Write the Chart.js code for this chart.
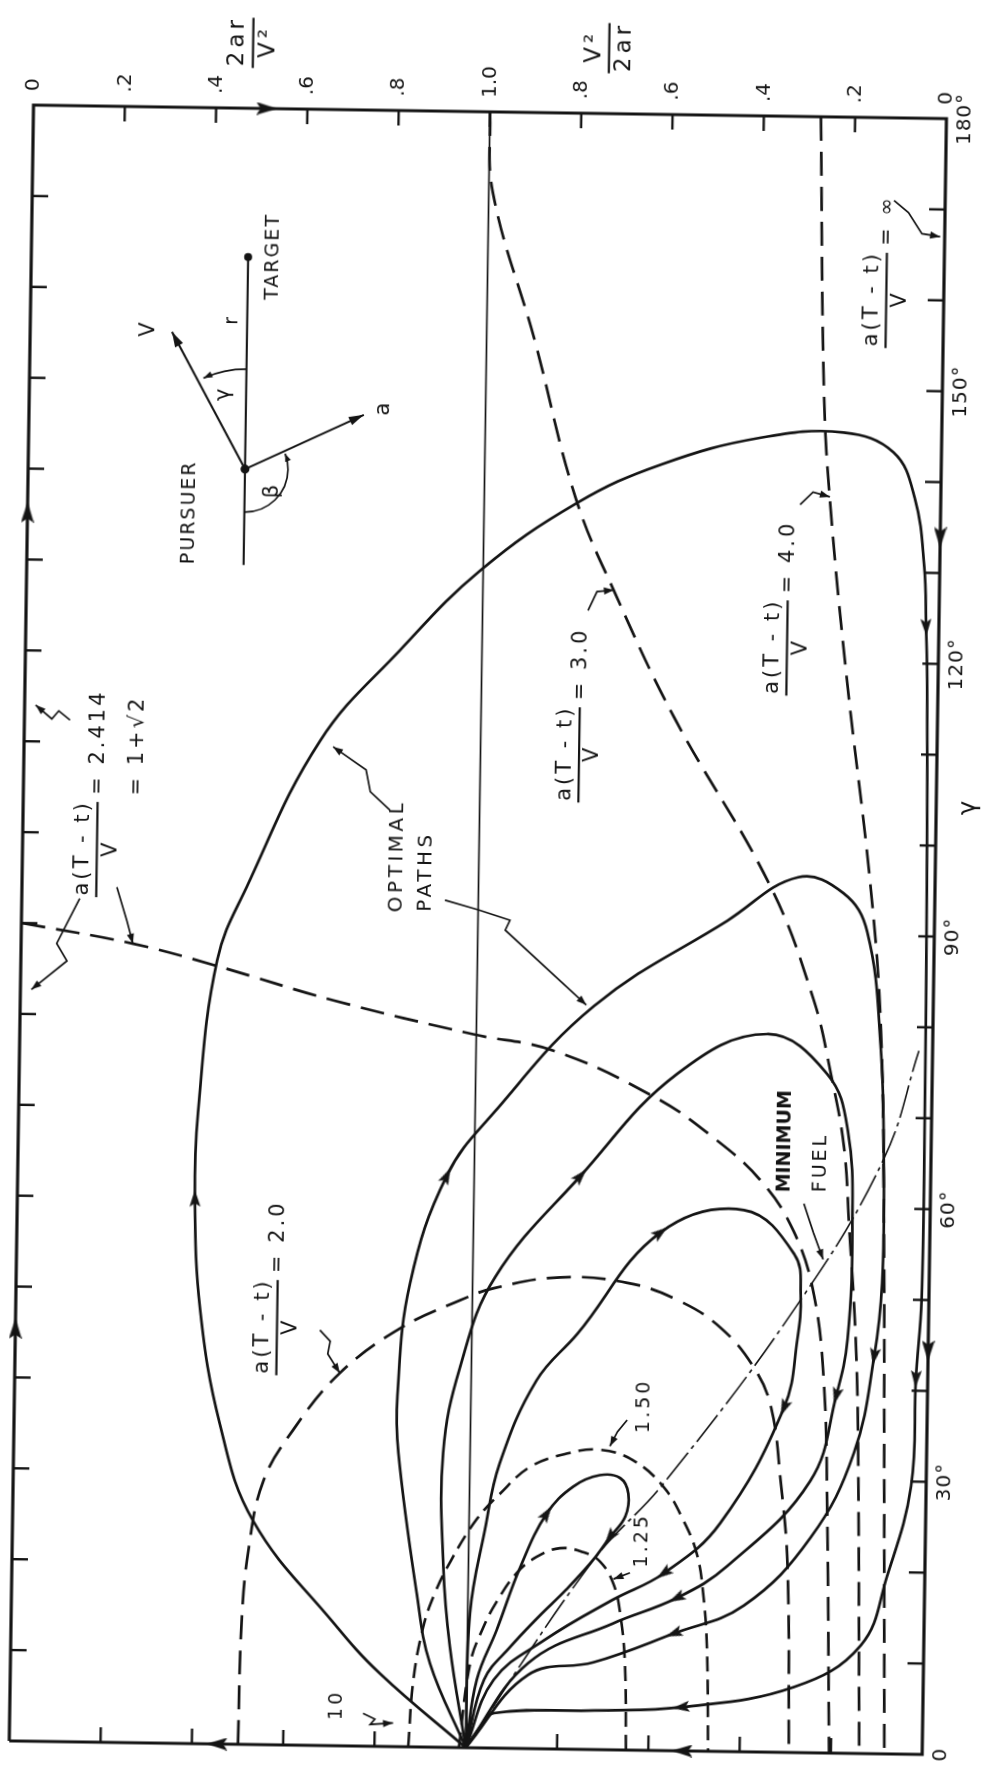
<!DOCTYPE html>
<html>
<head>
<meta charset="utf-8">
<script src="https://cdn.jsdelivr.net/npm/chart.js"></script>
<style>
  html, body { margin: 0; padding: 0; background: #ffffff; }
  #wrap { width: 987px; height: 1773px; transform: rotate(0.85deg); transform-origin: 50% 50%; }
  canvas { display: block; }
</style>
</head>
<body>
<div id="wrap"><canvas id="c" width="987" height="1773"></canvas></div>
<script>
// ---------------- data (X: 0..1 = 2ar/V^2, 1..2 = 2 - V^2/2ar ; second value = gamma in degrees) ----------------
const ratioTicks = [0, 0.2, 0.4, 0.6, 0.8, 1.0, 1.2, 1.4, 1.6, 1.8, 2.0];
const ratioTickLabels = ['0', '.2', '.4', '.6', '.8', '1.0', '.8', '.6', '.4', '.2', '0'];
const gammaTicks = [0, 10, 20, 30, 40, 50, 60, 70, 80, 90, 100, 110, 120, 130, 140, 150, 160, 170, 180];
const gammaLabelTicks = [0, 30, 60, 90, 120, 150, 180];
const gammaTickLabels = ['0', '30°', '60°', '90°', '120°', '150°', '180°'];

// optimal paths (solid)
const pathOuter = [[1.0,0],[0.81,8.0],[0.705,13.6],[0.527,24.6],[0.451,35.2],[0.404,47.8],[0.389,60],[0.393,69.4],[0.43,86.2],[0.493,94.4],[0.648,110.5],[0.82,120.6],[0.993,129.5],[1.203,137.1],[1.387,141.5],[1.604,144.6],[1.785,145.3],[1.895,143.2],[1.943,138.2],[1.966,130.7],[1.972,124],[1.976,118.3],[1.982,95.7],[1.985,70],[1.984,50],[1.974,41.3],[1.967,29.5],[1.917,19.5],[1.862,11.9],[1.717,7.2],[1.47,4.8],[1.28,4.3],[1.061,3.85],[1.031,2.3],[1.0,0]];
const pathOuterArrows = [6, 20, 25, 30];
const path96 = [[1,0],[0.919,9.2],[0.888,16.8],[0.843,32.3],[0.839,38.6],[0.863,51.0],[0.94,62.9],[1.041,69.9],[1.257,81.8],[1.546,91.4],[1.70,96.3],[1.80,94.6],[1.853,90.4],[1.886,77.9],[1.897,64.3],[1.897,51.8],[1.882,43.7],[1.841,33.1],[1.749,23.7],[1.605,16.1],[1.452,12.9],[1.277,9.6],[1.134,8.1],[1,0]];
const path96Arrows = [6, 16, 20];
const path79 = [[1,0],[0.962,11.1],[0.945,20],[0.941,32.4],[0.975,41.8],[1.049,51.8],[1.233,63.1],[1.442,74.5],[1.637,79],[1.77,74.7],[1.817,68.5],[1.83,58],[1.823,45.5],[1.8,39.3],[1.746,29.9],[1.567,20.4],[1.457,16.8],[1.318,13.9],[1.134,9.4],[1,0]];
const path79Arrows = [6, 13, 16];
const path60 = [[1,0],[1.005,14.8],[1.035,24],[1.065,31.3],[1.143,40.5],[1.231,45.7],[1.41,57],[1.592,59.6],[1.704,54.8],[1.719,50.4],[1.713,45.4],[1.686,37.9],[1.55,25.1],[1.428,19.5],[1.317,16.5],[1.17,12],[1.059,7.5],[1,0]];
const path60Arrows = [6, 11, 13];
const path30 = [[1,0],[1.022,7.5],[1.064,13],[1.114,20],[1.17,25.9],[1.227,28.9],[1.285,30.2],[1.33,29.9],[1.348,28.2],[1.342,25.7],[1.309,23.4],[1.272,20.8],[1.214,17.5],[1.155,14.5],[1.095,11.2],[1.038,7.5],[1,0]];
const path30Arrows = [4, 10];
// boundary trajectory (a(T-t)/V = infinity) along the frame
const boundary = [[0,0],[0,45.4],[0,135.2],[0,180],[0.511,180],[2,180],[2,133.9],[2,44.4],[2,0],[1.474,0],[0.455,0],[0,0]];
const boundaryArrows = [1, 2, 4, 6, 7, 9, 10];
// minimum fuel locus and the unity line
const minimumFuel = [[1,0],[1.273,20.8],[1.425,29.4],[1.719,49.8],[1.897,65.5],[1.97,77.4]];
const unityLine = [[1,0],[1,180]];
// constant time-to-go contours a(T-t)/V (dashed)
const contour125 = [[0.985,0],[1.007,9.3],[1.035,13.3],[1.063,16.1],[1.106,19.3],[1.149,21.1],[1.2,22.1],[1.251,21.7],[1.288,20.7],[1.318,18.3],[1.334,15.0],[1.346,9.5],[1.351,0]];
const contour150 = [[0.874,0],[0.883,7.3],[0.903,13.2],[0.927,16.9],[0.962,20.6],[1.016,25.1],[1.067,28.0],[1.132,31.0],[1.211,32.5],[1.284,33.0],[1.357,31.9],[1.425,29.0],[1.469,25.4],[1.5,21.7],[1.515,17.4],[1.525,11.5],[1.531,0]];
const contour200 = [[0.501,0],[0.505,13.4],[0.518,21.5],[0.548,29.0],[0.612,34.7],[0.712,41.0],[0.842,46.0],[0.973,49.2],[1.047,50.6],[1.192,51.9],[1.339,51.4],[1.449,49.6],[1.545,46.6],[1.62,42.2],[1.658,37.9],[1.681,29.9],[1.699,20.5],[1.708,0]];
const contour2414 = [[0,90],[0.246,87.9],[0.429,85.6],[0.686,82.0],[0.993,78.5],[1.171,76.8],[1.392,71.9],[1.518,67.7],[1.629,62.8],[1.702,57.3],[1.748,50.4],[1.773,40.5],[1.784,26.8],[1.796,0]];
const contour300 = [[1.0,180],[1.009,171.1],[1.105,155],[1.2,137.7],[1.29,127.2],[1.424,113.6],[1.64,95.2],[1.738,82.8],[1.778,74.7],[1.809,66.7],[1.823,57.9],[1.841,45.5],[1.85,33.1],[1.862,0]];
const contour400 = [[1.725,180],[1.741,149.3],[1.759,136.9],[1.8,118.2],[1.859,95.3],[1.886,79.8],[1.899,58],[1.907,33.1],[1.917,0]];

// ---------------- styling / helpers ----------------
const INK = '#141414';
const FONT = '"DejaVu Sans", "Liberation Sans", sans-serif';
function mk(points) { return points.map(p => ({ x: p[0], y: p[1] })); }
function arrowImage(w, h) {
  const c = document.createElement('canvas'); c.width = w; c.height = h;
  const g = c.getContext('2d'); g.fillStyle = INK;
  g.beginPath(); g.moveTo(w / 2, 0); g.lineTo(w, h); g.lineTo(w / 2, h * 0.8); g.lineTo(0, h); g.closePath(); g.fill();
  return c;
}
const headSmall = arrowImage(11, 17);
const headBig = arrowImage(13, 21);
function rotationAt(ctx) {
  const pts = ctx.dataset.data, i = ctx.dataIndex;
  const xs = ctx.chart.scales.x, ys = ctx.chart.scales.y;
  if (!xs || !ys) return 0;
  const a = pts[Math.max(0, i - 1)], b = pts[Math.min(pts.length - 1, i + 1)];
  const dx = xs.getPixelForValue(b.x) - xs.getPixelForValue(a.x);
  const dy = ys.getPixelForValue(b.y) - ys.getPixelForValue(a.y);
  return Math.atan2(dx, -dy) * 180 / Math.PI;
}
function series(label, points, arrows, style) {
  return Object.assign({
    label, data: mk(points), arrows: arrows || [], showLine: true,
    borderColor: INK, backgroundColor: INK, borderWidth: 2.7, tension: 0.4, clip: false, fill: false,
    pointRadius: c => c.dataset.arrows.includes(c.dataIndex) ? 7 : 0,
    pointHoverRadius: 0, pointHitRadius: 0, pointBorderWidth: 0,
    pointStyle: c => c.dataset.arrows.includes(c.dataIndex) ? (c.dataset.bigHead ? headBig : headSmall) : 'circle',
    pointRotation: rotationAt
  }, style || {});
}
const dashed = { borderWidth: 2.7, borderDash: [24, 11], borderCapStyle: 'butt' };
const dashedSmall = { borderWidth: 2.6, borderDash: [15, 8], borderCapStyle: 'butt' };

// ---------------- annotation layer ----------------
function rtext(g, s, x, y, size, opt) {
  opt = opt || {};
  g.save(); g.translate(x, y); g.rotate(-Math.PI / 2);
  g.font = (opt.bold ? 'bold ' : '') + size + 'px ' + FONT;
  g.letterSpacing = (opt.ls !== undefined ? opt.ls : 2) + 'px';
  g.textAlign = opt.align || 'center'; g.textBaseline = 'middle';
  g.fillText(s, 0, opt.dy || 0);
  g.restore();
}
function fracGroup(g, x, y, num, den, tails, size, ls) {
  g.save(); g.translate(x, y); g.rotate(-Math.PI / 2);
  g.font = size + 'px ' + FONT; g.letterSpacing = (ls === undefined ? 3 : ls) + 'px';
  g.textBaseline = 'middle'; g.textAlign = 'center';
  const L = Math.max(g.measureText(num).width, g.measureText(den).width);
  g.fillText(num, 1.5, -size * 0.66);
  g.fillText(den, 1.5, size * 0.66);
  g.lineWidth = 2.2; g.beginPath(); g.moveTo(-L / 2, 0); g.lineTo(L / 2, 0); g.stroke();
  g.textAlign = 'left';
  (tails || []).forEach((t, i) => g.fillText(t, L / 2 + 7, i * size * 1.85));
  g.restore();
}
function head(g, x, y, ang, len, half) {
  g.save(); g.translate(x, y); g.rotate(ang);
  g.beginPath(); g.moveTo(0, 0); g.lineTo(-len, -half); g.lineTo(-len, half); g.closePath(); g.fill();
  g.restore();
}

const leaders = [
  [[0.10,112.4],[0.075,113.4],[0.06,112.5],[0.024,114]],
  [[0.127,92.8],[0.078,87.8],[0.101,85.9],[0.024,82.7]],
  [[0.208,94.1],[0.231,90.4],[0.245,87.9]],
  [[0.667,45.7],[0.69,44.5],[0.685,43.1],[0.712,41.0]],
  [[1.231,125.3],[1.25,127.4],[1.287,127.6]],
  [[1.692,137.3],[1.72,138.7],[1.757,138.2]],
  [[1.888,170.9],[1.92,169.6],[1.95,167.3],[1.99,167.0]],
  [[0.804,103],[0.76,105],[0.75,107.4],[0.677,109.9]],
  [[0.927,93.2],[1.0,92.2],[1.07,91.1],[1.06,90.0],[1.24,81.9]],
  [[1.723,60.4],[1.745,57.2],[1.767,54.3]],
  [[1.343,36.3],[1.322,35.0],[1.306,33.4]],
  [[1.354,19.5],[1.318,18.8]],
  [[0.774,3.6],[0.80,3.0],[0.79,2.4],[0.84,2.6]]
];

const decor = {
  id: 'decor',
  beforeDraw(chart) {
    const g = chart.ctx; g.save(); g.fillStyle = '#ffffff'; g.fillRect(0, 0, chart.width, chart.height); g.restore();
  },
  afterDatasetsDraw(chart) {
    const g = chart.ctx, xs = chart.scales.x, ys = chart.scales.y, a = chart.chartArea;
    const P = (X, G) => [xs.getPixelForValue(X), ys.getPixelForValue(G)];
    const line = (x1, y1, x2, y2) => { g.beginPath(); g.moveTo(x1, y1); g.lineTo(x2, y2); g.stroke(); };
    g.save();
    g.strokeStyle = INK; g.fillStyle = INK; g.lineCap = 'butt';
    // inward tick marks on all four sides
    g.lineWidth = 2.4;
    ratioTicks.forEach(v => {
      if (v <= 0 || v >= 2) return;
      const x = xs.getPixelForValue(v);
      line(x, a.top, x, a.top + 15); line(x, a.bottom, x, a.bottom - 15);
    });
    gammaTicks.forEach(v => {
      if (v <= 0 || v >= 180) return;
      const y = ys.getPixelForValue(v);
      line(a.left, y, a.left + 16, y); line(a.right, y, a.right - 16, y);
    });
    // tick labels
    ratioTicks.forEach((v, i) => rtext(g, ratioTickLabels[i], xs.getPixelForValue(v), a.top - 14, 20, { align: 'left', ls: 0 }));
    gammaLabelTicks.forEach((v, i) => rtext(g, gammaTickLabels[i], a.right + 19, ys.getPixelForValue(v), 20, { ls: 1 }));
    // axis titles
    let p = P(0.479, 187.2); fracGroup(g, p[0], p[1], '2ar', 'V²', [], 23, 4);
    p = P(1.259, 187.2); fracGroup(g, p[0], p[1], 'V²', '2ar', [], 23, 4);
    p = P(2.072, 104.2); rtext(g, 'γ', p[0], p[1], 24, { ls: 0 });
    // curve labels
    p = P(0.163, 98.2); fracGroup(g, p[0], p[1], 'a(T - t)', 'V', ['= 2.414', '= 1+√2'], 21, 3);
    p = P(0.573, 45.9); fracGroup(g, p[0], p[1], 'a(T - t)', 'V', ['= 2.0'], 21, 3);
    p = P(1.216, 109.4); fracGroup(g, p[0], p[1], 'a(T - t)', 'V', ['= 3.0'], 21, 3);
    p = P(1.668, 121.5); fracGroup(g, p[0], p[1], 'a(T - t)', 'V', ['= 4.0'], 21, 3);
    p = P(1.874, 159.9); fracGroup(g, p[0], p[1], 'a(T - t)', 'V', ['= ∞'], 21, 3);
    p = P(0.822, 91.8); rtext(g, 'OPTIMAL', p[0], p[1], 20, { align: 'left', ls: 3.5 });
    p = P(0.884, 91.9); rtext(g, 'PATHS', p[0], p[1], 20, { align: 'left', ls: 3.5 });
    p = P(1.681, 61.6); rtext(g, 'MINIMUM', p[0], p[1], 19, { align: 'left', bold: true, ls: 0 });
    p = P(1.760, 61.7); rtext(g, 'FUEL', p[0], p[1], 19, { align: 'left', ls: 3 });
    p = P(1.381, 37.9); rtext(g, '1.50', p[0], p[1], 19, { ls: 3 });
    p = P(1.381, 23.1); rtext(g, '1.25', p[0], p[1], 19, { ls: 3 });
    p = P(0.717, 4.5); rtext(g, '10', p[0], p[1], 19, { ls: 3 });
    // leaders
    g.lineWidth = 1.7;
    leaders.forEach(pts => {
      const q = pts.map(t => P(t[0], t[1]));
      g.beginPath(); g.moveTo(q[0][0], q[0][1]);
      for (let i = 1; i < q.length; i++) g.lineTo(q[i][0], q[i][1]);
      g.stroke();
      const u = q[q.length - 2], w = q[q.length - 1];
      head(g, w[0], w[1], Math.atan2(w[1] - u[1], w[0] - u[0]), 10, 3.6);
    });
    // inset geometry sketch
    const o = P(0.475, 140.3), ox = o[0], oy = o[1];
    g.lineWidth = 2.1;
    line(ox, oy + 96, ox, oy - 212);
    g.beginPath(); g.arc(ox, oy - 212, 4, 0, Math.PI * 2); g.fill();
    g.beginPath(); g.arc(ox, oy, 4.5, 0, Math.PI * 2); g.fill();
    const vA = Math.atan2(-136, -75), aA = Math.atan2(-56, 118);
    line(ox, oy, ox - 75, oy - 136); head(g, ox - 75, oy - 136, vA, 15, 4.5);
    line(ox, oy, ox + 118, oy - 56); head(g, ox + 118, oy - 56, aA, 15, 4.5);
    g.lineWidth = 1.7;
    const gEnd = vA + 0.06;
    g.beginPath(); g.arc(ox, oy, 100, -Math.PI / 2, gEnd, true); g.stroke();
    head(g, ox + 100 * Math.cos(gEnd), oy + 100 * Math.sin(gEnd), Math.atan2(-Math.cos(gEnd), Math.sin(gEnd)), 9, 3.2);
    const bEnd = aA + 0.06;
    g.beginPath(); g.arc(ox, oy, 43, Math.PI / 2, bEnd, true); g.stroke();
    head(g, ox + 43 * Math.cos(bEnd), oy + 43 * Math.sin(bEnd), Math.atan2(-Math.cos(bEnd), Math.sin(bEnd)), 8, 3);
    rtext(g, 'TARGET', ox + 25, oy - 213, 19, { ls: 2 });
    rtext(g, 'PURSUER', ox - 55, oy + 44, 19, { ls: 2 });
    rtext(g, 'V', ox - 98, oy - 138, 21, { ls: 0 });
    rtext(g, 'a', ox + 138, oy - 62, 21, { ls: 0 });
    rtext(g, 'r', ox - 15, oy - 148, 19, { ls: 0 });
    rtext(g, 'γ', ox - 22, oy - 74, 21, { ls: 0 });
    rtext(g, 'β', ox + 28, oy + 22, 21, { ls: 0 });
    g.restore();
  }
};

new Chart(document.getElementById('c'), {
  type: 'scatter',
  data: {
    datasets: [
      series('a(T-t)/V = 1.25', contour125, [], dashedSmall),
      series('a(T-t)/V = 1.50', contour150, [], dashedSmall),
      series('a(T-t)/V = 2.0', contour200, [], dashed),
      series('a(T-t)/V = 2.414', contour2414, [], dashed),
      series('a(T-t)/V = 3.0', contour300, [], dashed),
      series('a(T-t)/V = 4.0', contour400, [], dashed),
      series('2ar/V2 = 1', unityLine, [], { borderWidth: 1.7, tension: 0 }),
      series('minimum fuel', minimumFuel, [], { borderWidth: 1.6, borderDash: [34, 5, 4, 5] }),
      series('optimal path 1', pathOuter, pathOuterArrows),
      series('optimal path 2', path96, path96Arrows),
      series('optimal path 3', path79, path79Arrows),
      series('optimal path 4', path60, path60Arrows),
      series('optimal path 5', path30, path30Arrows),
      series('a(T-t)/V = ∞', boundary, boundaryArrows, { borderWidth: 3.2, tension: 0, bigHead: true })
    ]
  },
  options: {
    responsive: false, animation: false, devicePixelRatio: 1, events: [],
    layout: { padding: { left: 22, right: 0, top: 0, bottom: 25 } },
    plugins: { legend: { display: false }, tooltip: { enabled: false } },
    scales: {
      x: {
        type: 'linear', position: 'top', min: 0, max: 2,
        ticks: { display: false, stepSize: 0.2 }, grid: { display: false }, border: { display: false },
        afterFit: s => { s.height = 112; }
      },
      y: {
        type: 'linear', position: 'right', min: 0, max: 180,
        ticks: { display: false, stepSize: 10 }, grid: { display: false }, border: { display: false },
        afterFit: s => { s.width = 52; }
      }
    }
  },
  plugins: [decor]
});
</script>
</body>
</html>
